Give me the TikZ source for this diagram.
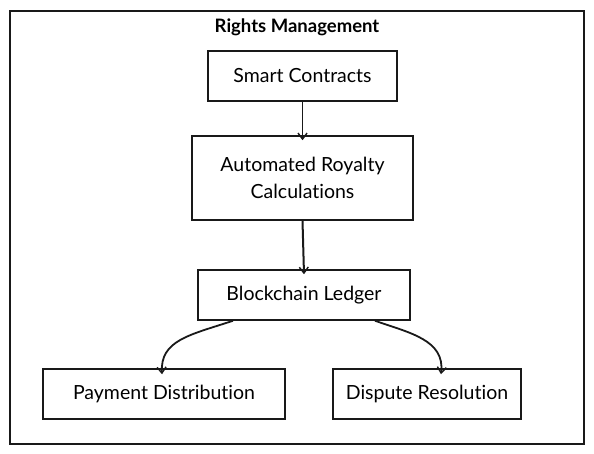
\documentclass[tikz,border=0pt]{standalone}
\usepackage{fontspec}
\setmainfont{Lato}[RawFeature=-liga]
\usetikzlibrary{arrows.meta}
\tikzset{
  box/.style={draw=black!90, line width=1.5pt, fill=white, align=center, font=\fontsize{19.5}{24}\selectfont, inner sep=0pt},
  conn/.style={draw=black!90, line width=1.4pt, -{Straight Barb[length=6pt,width=9pt,line width=1.4pt]}},
}
\begin{document}
\begin{tikzpicture}[x=1pt,y=-1pt]
\useasboundingbox (0,0) rectangle (594,454);
\fill[white] (0,0) rectangle (594,454);
\node[draw=black!90, line width=1.6pt, minimum width=574pt, minimum height=433pt, inner sep=0pt] (frame) at (297,227.5) {};
\node[font=\fontsize{18.5}{20}\selectfont\bfseries] (title) at (297,27) {Rights Management};
\node[box, minimum width=189pt, minimum height=50pt] (sc) at (302.5,76) {Smart Contracts};
\node[box, minimum width=221pt, minimum height=84pt] (arc) at (302.5,178) {Automated Royalty\\[3pt]Calculations};
\node[box, minimum width=212pt, minimum height=50pt] (bl) at (304,295) {Blockchain Ledger};
\node[box, minimum width=242pt, minimum height=50pt] (pd) at (164,394) {Payment Distribution};
\node[box, minimum width=188pt, minimum height=50pt] (dr) at (427,394) {Dispute Resolution};
\draw[conn] (sc.south) -- ([yshift=-5pt]arc.north);
\draw[conn, line width=2pt] (arc.south) -- ([yshift=-5pt]bl.north);
\draw[conn, line width=1.8pt] ([xshift=-71pt]bl.south) .. controls (190,335) and (160,340) .. ([xshift=-2pt,yshift=-6pt]pd.north);
\draw[conn, line width=1.8pt] ([xshift=71pt]bl.south) .. controls (410,333) and (445,340) .. ([xshift=14pt,yshift=-6pt]dr.north);
\end{tikzpicture}
\end{document}
